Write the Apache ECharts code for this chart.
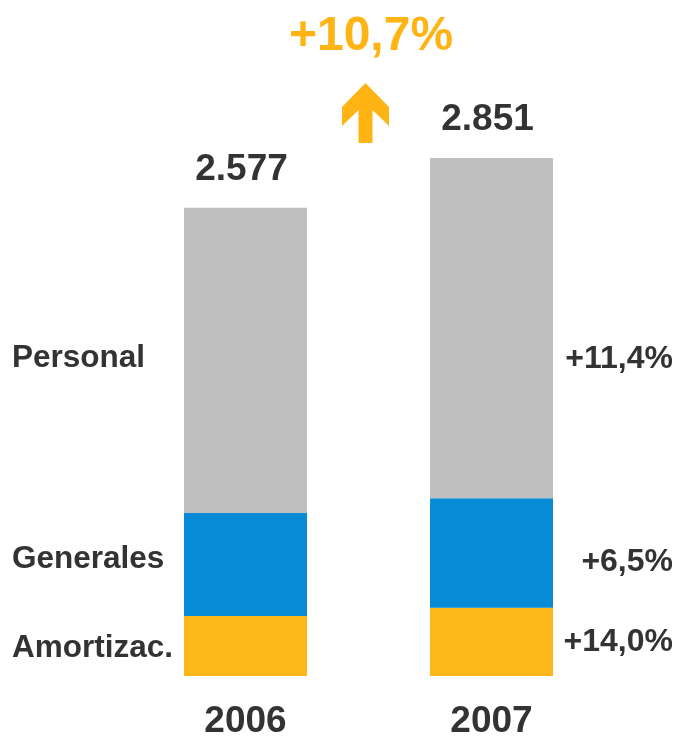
<!DOCTYPE html>
<html>
<head>
<meta charset="utf-8">
<script src="https://cdn.jsdelivr.net/npm/echarts@6/dist/echarts.min.js"></script>
<style>
html, body { margin: 0; padding: 0; background: #fff; }
#chart { width: 679px; height: 738px; }
</style>
</head>
<body>
<div id="chart"></div>
<script>
// datos
var years = ['2006', '2007'];
var amortizac = [330, 376];
var generales = [567, 603];
var personal = [1680, 1872];
var totals = ['2.577', '2.851'];
var growthAmortizac = '+14,0%';
var growthGenerales = '+6,5%';
var growthPersonal = '+11,4%';
var totalGrowth = '+10,7%';

var myChart = echarts.init(document.getElementById('chart'));

var dark = '#333333';
var font = '"Liberation Sans", Arial, sans-serif';

// una serie apilada: nombre a la izquierda de 2006, variación a la derecha de 2007
function stackSeries(name, values, color, pct, dyLeft, dyRight) {
	return {
		name : name,
		type : 'bar',
		stack : 'total',
		barWidth : 123,
		itemStyle : { color : color },
		emphasis : { disabled : true },
		data : [ {
			value : values[0],
			label : {
				show : true,
				position : 'insideLeft',
				distance : 0,
				offset : [-172, dyLeft],
				formatter : name,
				color : dark,
				fontSize : 31.5,
				fontWeight : 'bold',
				fontFamily : font
			}
		}, {
			value : values[1],
			label : {
				show : true,
				position : 'insideRight',
				distance : 0,
				offset : [120, dyRight],
				formatter : pct,
				color : dark,
				fontSize : 32,
				fontWeight : 'bold',
				fontFamily : font
			}
		} ]
	};
}

var option = {
	animation : false,
	grid : {
		left : 122.5,
		right : 64.5,
		top : 131,
		bottom : 62,
		outerBoundsMode : 'none'
	},
	xAxis : {
		type : 'category',
		data : years,
		axisLine : { show : false },
		axisTick : { show : false },
		axisLabel : {
			margin : 27,
			color : dark,
			fontSize : 37,
			fontWeight : 'bold',
			fontFamily : font
		}
	},
	yAxis : {
		type : 'value',
		min : 0,
		max : 3000,
		show : false
	},
	graphic : [ {
		type : 'text',
		x : 371,
		y : 37,
		style : {
			text : totalGrowth,
			fill : '#FFB414',
			font : 'bold 48px ' + font,
			textAlign : 'center',
			textVerticalAlign : 'middle'
		}
	}, {
		type : 'polygon',
		shape : {
			points : [ [365.5, 83], [389, 107], [389, 126], [372.5, 110], [372.5, 143],
				[358.5, 143], [358.5, 110], [342, 126], [342, 107] ]
		},
		style : { fill : '#FFB414' }
	} ],
	series : [
		stackSeries('Amortizac.', amortizac, '#FDB71A', growthAmortizac, 2, 0),
		stackSeries('Generales', generales, '#078BD6', growthGenerales, -5, 9),
		stackSeries('Personal', personal, '#BFBFBF', growthPersonal, -2, 31),
		{
			// totales encima de cada barra
			name : 'Total',
			type : 'bar',
			stack : 'total',
			barWidth : 123,
			data : [0, 0],
			label : {
				show : true,
				position : 'top',
				distance : 20,
				offset : [-4, 0],
				formatter : function (p) {
					return totals[p.dataIndex];
				},
				color : dark,
				fontSize : 37,
				fontWeight : 'bold',
				fontFamily : font
			}
		}
	]
};

myChart.setOption(option);
</script>
</body>
</html>
